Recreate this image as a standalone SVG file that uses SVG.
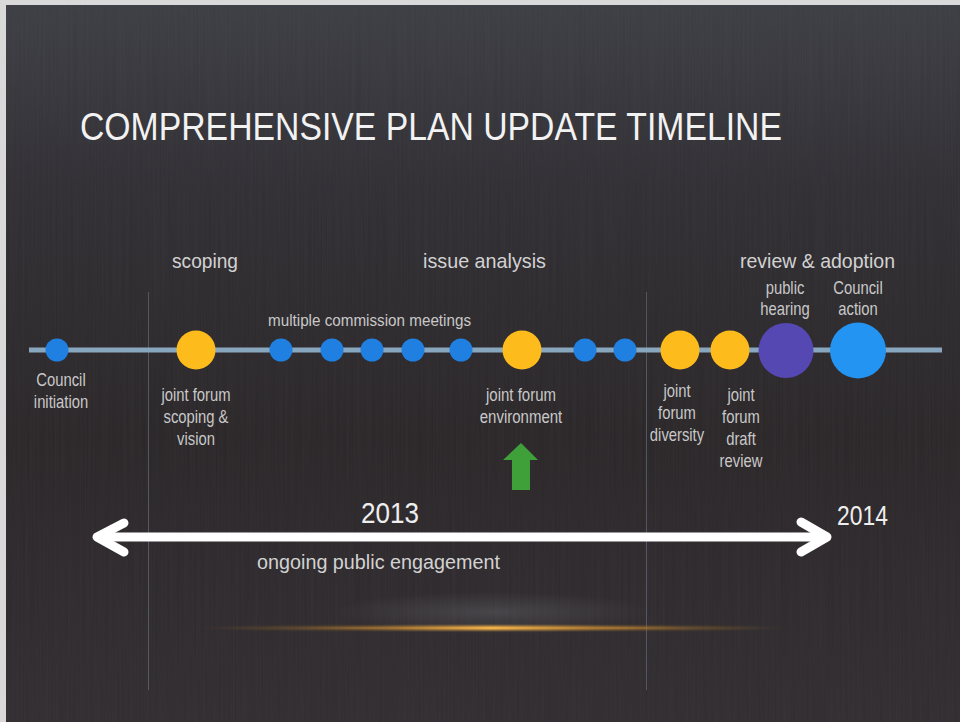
<svg xmlns="http://www.w3.org/2000/svg" width="960" height="722" viewBox="0 0 960 722">
<defs>
<linearGradient id="bg" x1="0" y1="0" x2="0" y2="1">
<stop offset="0" stop-color="#3c3d43"/>
<stop offset="0.25" stop-color="#302e33"/>
<stop offset="0.6" stop-color="#2a2628"/>
<stop offset="1" stop-color="#302c30"/>
</linearGradient>
<linearGradient id="glowline" x1="0" y1="0" x2="1" y2="0">
<stop offset="0" stop-color="#b07a30" stop-opacity="0"/>
<stop offset="0.25" stop-color="#a87430" stop-opacity="0.6"/>
<stop offset="0.5" stop-color="#f2b24a"/>
<stop offset="0.75" stop-color="#b07a30" stop-opacity="0.7"/>
<stop offset="1" stop-color="#b07a30" stop-opacity="0"/>
</linearGradient>
<radialGradient id="haze" cx="0.5" cy="0.5" r="0.5">
<stop offset="0" stop-color="#9a9aa4" stop-opacity="0.22"/>
<stop offset="1" stop-color="#9a9aa4" stop-opacity="0"/>
</radialGradient>
<filter id="soft" x="-10%" y="-300%" width="120%" height="700%">
<feGaussianBlur stdDeviation="1.2"/>
</filter>
<filter id="streaks" x="0" y="0" width="100%" height="100%">
<feTurbulence type="fractalNoise" baseFrequency="0.6 0.006" numOctaves="2" seed="3"/>
<feColorMatrix type="matrix" values="0 0 0 0 0.6  0 0 0 0 0.6  0 0 0 0 0.65  0 0 0 0.05 0"/>
</filter>
</defs>
<style>
text { font-family: "Liberation Sans", Arial, sans-serif; }
.title { fill: #f2f2f2; font-size: 38px; }
.phase { fill: #d2d2d2; font-size: 21px; }
.lbl { fill: #c8c8c8; font-size: 18.5px; text-anchor: middle; }
.year { fill: #eeeeee; }
.divider { stroke: #6f7c8c; stroke-opacity: 0.55; stroke-width: 1; }
.track { stroke: #89a6bf; stroke-width: 5; fill: none; }
.eng { stroke: #ffffff; stroke-width: 9; fill: none; stroke-linecap: round; stroke-linejoin: round; }
.blue { fill: #1f80e2; }
.yellow { fill: #fdbc1b; }
.purple { fill: #5548b2; }
.lblue { fill: #2394f2; }
</style>

<rect x="0" y="0" width="960" height="722" fill="#d9d9d9"/>
<rect x="6" y="5" width="954" height="717" fill="url(#bg)"/>
<rect x="6" y="5" width="954" height="717" filter="url(#streaks)"/>

<text class="title" x="80" y="140" textLength="702" lengthAdjust="spacingAndGlyphs">COMPREHENSIVE PLAN UPDATE TIMELINE</text>

<text class="phase" x="172" y="268" textLength="66" lengthAdjust="spacingAndGlyphs">scoping</text>
<text class="phase" x="423" y="268" textLength="123" lengthAdjust="spacingAndGlyphs">issue analysis</text>
<text class="phase" x="740" y="268" textLength="155" lengthAdjust="spacingAndGlyphs">review &amp; adoption</text>

<line class="divider" x1="148.5" y1="292" x2="148.5" y2="690"/>
<line class="divider" x1="646.5" y1="292" x2="646.5" y2="690"/>

<ellipse cx="492" cy="612" rx="160" ry="20" fill="url(#haze)"/>
<ellipse cx="492" cy="628" rx="300" ry="2.2" fill="url(#glowline)" filter="url(#soft)"/>
<ellipse cx="492" cy="628" rx="200" ry="1" fill="url(#glowline)"/>

<g id="connectors">
<line class="track" x1="29" y1="350" x2="942" y2="350"/>
<line class="eng" x1="100" y1="537" x2="824" y2="537"/>
<polyline class="eng" points="124,523 97,537 124,552"/>
<polyline class="eng" points="801,522 827,537 801,552"/>
<polygon id="green-arrow" points="521,443 538,460 530,460 530,490 512,490 512,460 503,460" fill="#3fa03a"/>
</g>

<g id="n-council-initiation">
<circle class="blue" cx="57" cy="350" r="11.5"/>
<text class="lbl" transform="translate(61,386) scale(0.8,1)"><tspan x="0" y="0">Council</tspan><tspan x="0" y="22">initiation</tspan></text>
</g>

<g id="n-scoping-vision">
<circle class="yellow" cx="196" cy="350" r="19.5"/>
<text class="lbl" transform="translate(196,401) scale(0.8,1)"><tspan x="0" y="0">joint forum</tspan><tspan x="0" y="22">scoping &amp;</tspan><tspan x="0" y="44">vision</tspan></text>
</g>

<g id="n-commission">
<text x="268" y="326" fill="#c8c8c8" font-size="16" textLength="203" lengthAdjust="spacingAndGlyphs">multiple commission meetings</text>
<circle class="blue" cx="281" cy="350" r="11.5"/>
<circle class="blue" cx="332" cy="350" r="11.5"/>
<circle class="blue" cx="372" cy="350" r="11.5"/>
<circle class="blue" cx="413" cy="350" r="11.5"/>
<circle class="blue" cx="461" cy="350" r="11.5"/>
</g>

<g id="n-environment">
<circle class="yellow" cx="522" cy="350" r="19.5"/>
<text class="lbl" transform="translate(521,401) scale(0.81,1)"><tspan x="0" y="0">joint forum</tspan><tspan x="0" y="22">environment</tspan></text>
</g>

<g id="n-commission-2">
<circle class="blue" cx="585" cy="350" r="11.5"/>
<circle class="blue" cx="625" cy="350" r="11.5"/>
</g>

<g id="n-diversity">
<circle class="yellow" cx="680" cy="350" r="19.5"/>
<text class="lbl" transform="translate(677,397) scale(0.8,1)"><tspan x="0" y="0">joint</tspan><tspan x="0" y="22">forum</tspan><tspan x="0" y="44">diversity</tspan></text>
</g>

<g id="n-draft-review">
<circle class="yellow" cx="730" cy="350" r="19.5"/>
<text class="lbl" transform="translate(741,401) scale(0.8,1)"><tspan x="0" y="0">joint</tspan><tspan x="0" y="22">forum</tspan><tspan x="0" y="44">draft</tspan><tspan x="0" y="66">review</tspan></text>
</g>

<g id="n-public-hearing">
<circle class="purple" cx="786" cy="350.5" r="27.5"/>
<text class="lbl" transform="translate(785,294) scale(0.8,1)"><tspan x="0" y="0">public</tspan><tspan x="0" y="21">hearing</tspan></text>
</g>

<g id="n-council-action">
<circle class="lblue" cx="858" cy="350.5" r="28"/>
<text class="lbl" transform="translate(858,294) scale(0.8,1)"><tspan x="0" y="0">Council</tspan><tspan x="0" y="21">action</tspan></text>
</g>

<text class="year" x="361" y="523" font-size="30" textLength="58" lengthAdjust="spacingAndGlyphs">2013</text>
<text class="year" x="837" y="525" font-size="28" textLength="51" lengthAdjust="spacingAndGlyphs">2014</text>
<text x="257" y="569" fill="#d2d2d2" font-size="20" textLength="243" lengthAdjust="spacingAndGlyphs">ongoing public engagement</text>
</svg>
